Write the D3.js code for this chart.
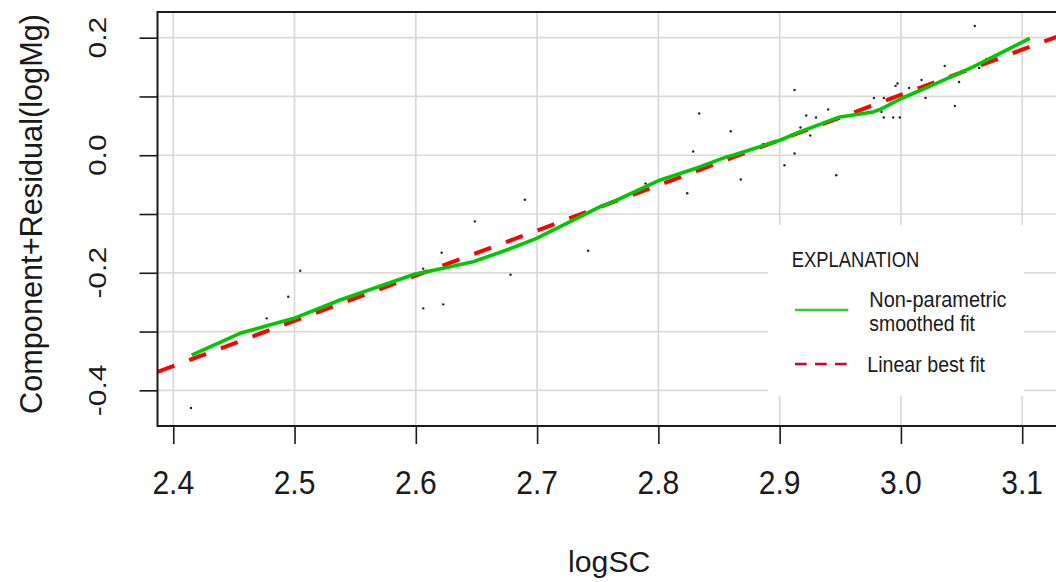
<!DOCTYPE html>
<html>
<head>
<meta charset="utf-8">
<script src="https://cdn.jsdelivr.net/npm/d3@7"></script>
<style>
  html, body { margin: 0; padding: 0; background: #fff; }
  svg { display: block; }
  text { font-family: "Liberation Sans", Arial, sans-serif; fill: #1a1a1a; }
</style>
</head>
<body>
<svg id="chart" width="1056" height="582"></svg>
<script>
// Observations: log specific conductance vs component + residual of log magnesium
const obsX = [3.0609, 3.0361, 3.0705, 3.0645, 3.0480, 3.0445, 3.0203, 3.0170, 3.0068, 2.9972,
              2.9956, 2.9777, 2.9859, 2.9840, 2.9859, 2.9936, 2.9991, 2.9400, 2.9300, 2.9219,
              2.9123, 2.9172, 2.9252, 2.9123, 2.9040, 2.9467, 2.8866, 2.8337, 2.8597, 2.8287,
              2.8680, 2.8238, 2.7894, 2.7663, 2.6899, 2.6487, 2.6213, 2.6061, 2.6061, 2.6226,
              2.6781, 2.5047, 2.4948, 2.4770, 2.4146, 2.7421];
const obsY = [0.2199, 0.1520, 0.1640, 0.1484, 0.1247, 0.0839, 0.0975, 0.1281, 0.1145, 0.1220,
              0.1180, 0.0975, 0.0975, 0.0737, 0.0641, 0.0641, 0.0641, 0.0777, 0.0641, 0.0675,
              0.1111, 0.0471, 0.0335, 0.0029, -0.0170, -0.0340, 0.0193, 0.0710, 0.0408, 0.0063,
              -0.0413, -0.0647, -0.0482, -0.0754, -0.0757, -0.1126, -0.1660, -0.1930, -0.2605, -0.2537,
              -0.2033, -0.1965, -0.2407, -0.2775, -0.4301, -0.1626];

// Non-parametric smoothed fit
const smoothX = [2.4152, 2.4550, 2.4995, 2.5375, 2.5995, 2.6226, 2.6473, 2.6749, 2.6996, 2.7517,
                 2.7655, 2.8011, 2.8341, 2.8562, 2.8616, 2.9002, 2.9167, 2.9496, 2.9771, 2.9826,
                 3.0005, 3.0320, 3.0595, 3.0788, 3.1063];
const smoothY = [-0.3400, -0.3030, -0.2775, -0.2463, -0.2021, -0.1924, -0.1812, -0.1613, -0.1414, -0.0880,
                 -0.0766, -0.0425, -0.0199, -0.0028, 0.0000, 0.0255, 0.0397, 0.0652, 0.0737, 0.0777,
                 0.0965, 0.1247, 0.1503, 0.1702, 0.1990];

// Linear best fit, end points across the plotting region
const linearX = [2.387, 3.132];
const linearY = [-0.3687, 0.2042];

// Axis ticks
const xTicks = [2.4, 2.5, 2.6, 2.7, 2.8, 2.9, 3.0, 3.1];
const xTickLabels = ["2.4", "2.5", "2.6", "2.7", "2.8", "2.9", "3.0", "3.1"];
const yTicks = [-0.4, -0.3, -0.2, -0.1, 0.0, 0.1, 0.2];
const yLabelTicks = [-0.4, -0.2, 0.0, 0.2];
const yTickLabels = ["-0.4", "-0.2", "0.0", "0.2"];

// Legend entries
const legendTitle = "EXPLANATION";
const legendSmooth = ["Non-parametric", "smoothed fit"];
const legendLinear = "Linear best fit";

const svg = d3.select("#chart");
const box = { left: 157.5, right: 1061, top: 12, bottom: 426 };

const x = d3.scaleLinear().domain([2.387, 3.132]).range([box.left, box.right]);
const y = d3.scaleLinear().domain([-0.4607, 0.2437]).range([box.bottom, box.top]);

svg.append("defs").append("clipPath").attr("id", "plotClip")
  .append("rect")
  .attr("x", box.left).attr("y", box.top)
  .attr("width", box.right - box.left).attr("height", box.bottom - box.top);

// grid
const grid = svg.append("g");
grid.selectAll(".gx").data(xTicks).enter().append("line")
  .attr("x1", d => x(d)).attr("x2", d => x(d))
  .attr("y1", box.top).attr("y2", box.bottom)
  .attr("stroke", "#d9d9d9").attr("stroke-width", 1.7);
grid.selectAll(".gy").data(yTicks).enter().append("line")
  .attr("x1", box.left).attr("x2", box.right)
  .attr("y1", d => y(d)).attr("y2", d => y(d))
  .attr("stroke", "#d9d9d9").attr("stroke-width", 1.7);

const plot = svg.append("g").attr("clip-path", "url(#plotClip)");

// observations
plot.selectAll("circle").data(obsX).enter().append("circle")
  .attr("cx", d => x(d))
  .attr("cy", (d, i) => y(obsY[i]))
  .attr("r", 1.2)
  .attr("fill", "#222");

// linear fit (dashed)
const line = d3.line().x(d => x(d[0])).y(d => y(d[1]));
plot.append("path")
  .datum(linearX.map((v, i) => [v, linearY[i]]))
  .attr("d", line)
  .attr("fill", "none")
  .attr("stroke", "#ff0000")
  .attr("stroke-width", 4)
  .attr("stroke-dasharray", "18,15.8");

// smoothed fit
plot.append("path")
  .datum(smoothX.map((v, i) => [v, smoothY[i]]))
  .attr("d", line)
  .attr("fill", "none")
  .attr("stroke", "#00c800")
  .attr("stroke-width", 3.6)
  .attr("stroke-linejoin", "round");

// frame
svg.append("rect")
  .attr("x", box.left).attr("y", box.top)
  .attr("width", box.right - box.left).attr("height", box.bottom - box.top)
  .attr("fill", "none").attr("stroke", "#1a1a1a").attr("stroke-width", 2);

// x axis
const xAxis = d3.axisBottom(x).tickValues(xTicks).tickSize(18).tickFormat("");
const gx = svg.append("g").attr("transform", `translate(0,${box.bottom})`).call(xAxis);
gx.select(".domain").remove();
gx.selectAll(".tick line").attr("stroke", "#1a1a1a").attr("stroke-width", 1.6);
svg.append("g").selectAll("text").data(xTicks).enter().append("text")
  .attr("x", d => x(d)).attr("y", 494)
  .attr("text-anchor", "middle")
  .attr("font-size", 33)
  .attr("textLength", 41.7)
  .attr("lengthAdjust", "spacingAndGlyphs")
  .text((d, i) => xTickLabels[i]);

// y axis
const yAxis = d3.axisLeft(y).tickValues(yTicks).tickSize(18).tickFormat("");
const gy = svg.append("g").attr("transform", `translate(${box.left},0)`).call(yAxis);
gy.select(".domain").remove();
gy.selectAll(".tick line").attr("stroke", "#1a1a1a").attr("stroke-width", 1.6);
svg.append("g").selectAll("text").data(yLabelTicks).enter().append("text")
  .attr("transform", d => `translate(106,${y(d)}) rotate(-90) scale(1,0.78)`)
  .attr("text-anchor", "middle")
  .attr("font-size", 30)
  .attr("textLength", (d, i) => yTickLabels[i].length === 4 ? 51.7 : 41.7)
  .attr("lengthAdjust", "spacingAndGlyphs")
  .text((d, i) => yTickLabels[i]);

// axis titles
svg.append("text")
  .attr("x", (box.left + box.right) / 2).attr("y", 571.5)
  .attr("text-anchor", "middle")
  .attr("font-size", 30)
  .attr("textLength", 82.3)
  .attr("lengthAdjust", "spacingAndGlyphs")
  .text("logSC");

svg.append("text")
  .attr("transform", "translate(42,214) rotate(-90)")
  .attr("text-anchor", "middle")
  .attr("font-size", 31)
  .attr("textLength", 400)
  .attr("lengthAdjust", "spacingAndGlyphs")
  .text("Component+Residual(logMg)");

// legend
const lg = svg.append("g");
lg.append("rect")
  .attr("x", 768).attr("y", 225).attr("width", 256).attr("height", 171)
  .attr("fill", "#ffffff");
lg.append("text")
  .attr("x", 791.7).attr("y", 267.3)
  .attr("font-size", 21.8).attr("fill", "#222")
  .attr("textLength", 127.7).attr("lengthAdjust", "spacingAndGlyphs")
  .text(legendTitle);
lg.append("line")
  .attr("x1", 795).attr("x2", 848.3).attr("y1", 310).attr("y2", 310)
  .attr("stroke", "#33cc33").attr("stroke-width", 2.4);
lg.append("text")
  .attr("x", 869.3).attr("y", 307.3)
  .attr("font-size", 21.8).attr("fill", "#222")
  .attr("textLength", 137.3).attr("lengthAdjust", "spacingAndGlyphs")
  .text(legendSmooth[0]);
lg.append("text")
  .attr("x", 869.3).attr("y", 330.7)
  .attr("font-size", 21.8).attr("fill", "#222")
  .attr("textLength", 105.7).attr("lengthAdjust", "spacingAndGlyphs")
  .text(legendSmooth[1]);
lg.append("line")
  .attr("x1", 795).attr("x2", 848.3).attr("y1", 364).attr("y2", 364)
  .attr("stroke", "#dd0022").attr("stroke-width", 2.4)
  .attr("stroke-dasharray", "11.7,8.3");
lg.append("text")
  .attr("x", 867.3).attr("y", 371.7)
  .attr("font-size", 21.8).attr("fill", "#222")
  .attr("textLength", 117.7).attr("lengthAdjust", "spacingAndGlyphs")
  .text(legendLinear);
</script>
</body>
</html>
